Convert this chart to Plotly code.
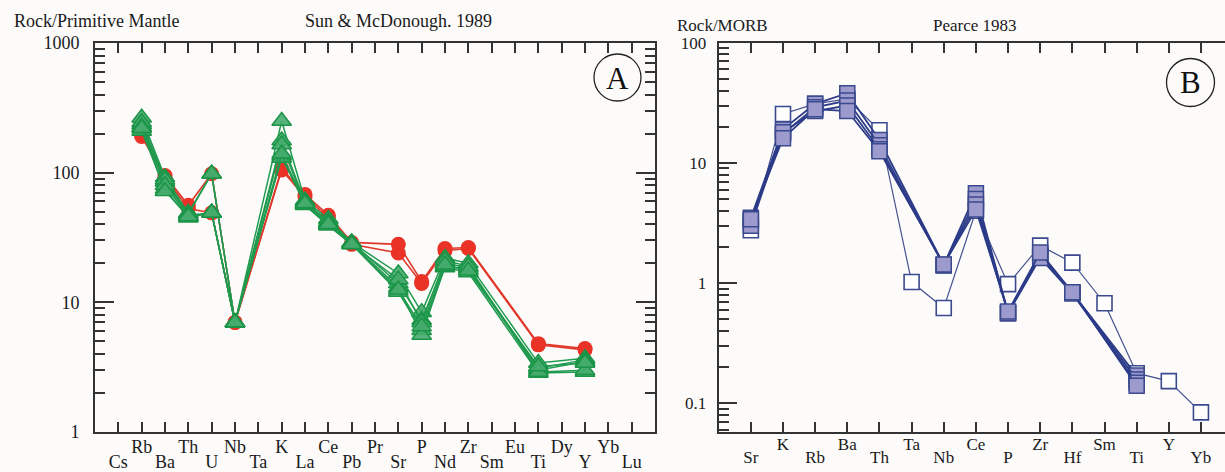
import plotly.graph_objects as go

W, H = 1225, 472

# ---------------- Panel A data (Rock / Primitive Mantle) ----------------
elements_A = ["Cs", "Rb", "Ba", "Th", "U", "Nb", "Ta", "K", "La", "Ce", "Pb", "Pr",
              "Sr", "P", "Nd", "Zr", "Sm", "Eu", "Ti", "Dy", "Y", "Yb", "Lu"]
plotted_A = ["Rb", "Ba", "Th", "U", "Nb", "K", "La", "Ce", "Pb", "Sr", "P", "Nd", "Zr", "Ti", "Y"]

red_1 = [195, 95, 56, 98, 7.0, 108, 68, 47, 29, 28, 14.5, 26, 26.5, 4.8, 4.4]
red_2 = [190, 92, 53, 49, 7.0, 105, 65, 45, 28, 24, 14.0, 25, 26.0, 4.7, 4.3]

green_1 = [265, 92, 49, 98, 7.0, 250, 61, 44, 29, 16.7, 8.4, 22, 20, 3.4, 3.7]
green_2 = [235, 85, 47, 49, 7.0, 177, 59, 42, 29, 14.0, 7.3, 20, 18.5, 3.1, 3.6]
green_3 = [210, 75, 45, 49, 7.0, 135, 56, 39, 28, 12.0, 6.1, 18.6, 17, 2.85, 2.9]
green_4 = [245, 88, 48, 98, 7.0, 130, 60, 41, 28.5, 13.0, 5.6, 19, 18, 3.0, 3.5]
green_5 = [225, 80, 46, 49, 7.0, 165, 57, 40, 28, 15.0, 7.0, 21, 19, 2.9, 3.0]
green_6 = [220, 72, 46, 49, 7.0, 140, 58, 40, 28, 12.5, 6.5, 19.5, 17.5, 3.2, 3.4]

# ---------------- Panel B data (Rock / MORB) ----------------
elements_B = ["Sr", "K", "Rb", "Ba", "Th", "Ta", "Nb", "Ce", "P", "Zr", "Hf", "Sm", "Ti", "Y", "Yb"]

open_1 = [2.75, 25.5, 31, 34, 18.7, 1.02, 0.62, 4.0, 0.98, 2.05, 1.48, 0.68, 0.178, 0.153, 0.084]
filled_1 = [3.5, 19.0, 31, 38, 15.5, None, 1.42, 5.6, 0.56, 1.75, 0.83, None, 0.17, None, None]
filled_2 = [3.3, 17.5, 29, 33, 14.0, None, 1.40, 5.0, 0.57, 1.68, 0.83, None, 0.158, None, None]
filled_3 = [3.0, 18.0, 27, 30, 13.0, None, 1.41, 4.5, 0.56, 1.62, 0.82, None, 0.148, None, None]
filled_4 = [3.4, 16.0, 28, 27, 12.5, None, 1.43, 4.1, 0.58, 1.80, 0.84, None, 0.14, None, None]

# ---------------- helpers ----------------
def px(x):
    return x / W

def py(y):
    return 1 - y / H

SERIF = "Liberation Serif"
BG = "#fcfbfa"
AX = "#333333"

xA = [elements_A.index(e) for e in plotted_A]
xB = list(range(len(elements_B)))

fig = go.Figure()

RED_LINE = "#e0382b"
RED_FILL = "#ea3326"
for s in [red_1, red_2]:
    fig.add_trace(go.Scatter(
        x=xA, y=s, xaxis="x", yaxis="y", mode="lines+markers",
        line=dict(color=RED_LINE, width=1.6),
        marker=dict(symbol="circle", size=15, color=RED_FILL, line=dict(width=0)),
        showlegend=False, hoverinfo="skip"))

GREEN_LINE = "#1f9a4e"
for s in [green_1, green_2, green_3, green_4, green_5, green_6]:
    fig.add_trace(go.Scatter(
        x=xA, y=s, xaxis="x", yaxis="y", mode="lines+markers",
        line=dict(color=GREEN_LINE, width=1.5),
        marker=dict(symbol="triangle-up", size=17, color="rgba(70,172,110,0.9)",
                    line=dict(color="#1b9447", width=1.5)),
        showlegend=False, hoverinfo="skip"))

fig.add_trace(go.Scatter(
    x=xB, y=open_1, xaxis="x2", yaxis="y2", mode="lines+markers",
    line=dict(color="#45508f", width=1.2),
    marker=dict(symbol="square", size=15, color="white",
                line=dict(color="#3b4a8e", width=1.6)),
    showlegend=False, hoverinfo="skip"))

for s in [filled_1, filled_2, filled_3, filled_4]:
    fig.add_trace(go.Scatter(
        x=xB, y=s, xaxis="x2", yaxis="y2", mode="lines+markers", connectgaps=True,
        line=dict(color="#2c3b88", width=1.8),
        marker=dict(symbol="square", size=15, color="#9d9bcd",
                    line=dict(color="#3b4a8e", width=1.5)),
        showlegend=False, hoverinfo="skip"))

# empty traces so the overlaying label axes (second row of element names) are drawn
fig.add_trace(go.Scatter(x=[], y=[], xaxis="x3", yaxis="y", showlegend=False, hoverinfo="skip"))
fig.add_trace(go.Scatter(x=[], y=[], xaxis="x4", yaxis="y2", showlegend=False, hoverinfo="skip"))

# ---------------- axes ----------------
upperA_text = [e if i % 2 == 1 else "" for i, e in enumerate(elements_A)]
lowerA_vals = [i for i in range(len(elements_A)) if i % 2 == 0]
lowerA_text = [elements_A[i] for i in lowerA_vals]

upperB_text = [e if i % 2 == 1 else "" for i, e in enumerate(elements_B)]
lowerB_vals = [i for i in range(len(elements_B)) if i % 2 == 0]
lowerB_text = [elements_B[i] for i in lowerB_vals]

minorA = [m * d for d in [1, 10, 100] for m in range(2, 10)]
minorB = [m * d for d in [0.01, 0.1, 1, 10] for m in range(2, 10) if 0.058 < m * d < 100]

domA_x = [px(95), px(655)]
domA_y = [py(432), py(43)]
domB_x = [px(718.7), 1.0]
domB_y = [py(432), py(42.7)]
rangeB_x = [-1, -1 + (W - 718.7) / 32.15]

fontA = dict(family=SERIF, size=18, color="#1a1a1a")
fontB = dict(family=SERIF, size=17, color="#1a1a1a")

fig.update_layout(
    width=W, height=H,
    margin=dict(l=0, r=0, t=0, b=0, autoexpand=False),
    paper_bgcolor=BG, plot_bgcolor=BG,
    showlegend=False,
    xaxis=dict(domain=domA_x, range=[-1, 23], anchor="y", automargin=False,
               tickmode="array", tickvals=list(range(len(elements_A))), ticktext=upperA_text,
               ticks="inside", ticklen=10, tickwidth=1.5, tickcolor=AX,
               showline=True, linecolor=AX, linewidth=2, mirror="ticks",
               showgrid=False, zeroline=False, tickfont=fontA, ticklabelstandoff=-3),
    xaxis3=dict(domain=domA_x, range=[-1, 23], anchor="y", overlaying="x", automargin=False,
                tickmode="array", tickvals=lowerA_vals, ticktext=lowerA_text,
                ticks="", showline=False, showgrid=False, zeroline=False,
                tickfont=fontA, ticklabelstandoff=17),
    yaxis=dict(domain=domA_y, type="log", range=[0, 3], anchor="x", automargin=False,
               tickmode="array", tickvals=[1, 10, 100, 1000], ticktext=["1", "10", "100", "1000"],
               ticks="inside", ticklen=19, tickwidth=1.5, tickcolor=AX,
               minor=dict(tickvals=minorA, ticks="inside", ticklen=10, tickwidth=1.5, tickcolor=AX),
               showline=True, linecolor=AX, linewidth=2, mirror="ticks",
               showgrid=False, zeroline=False, tickfont=fontA, ticklabelstandoff=10),
    xaxis2=dict(domain=domB_x, range=rangeB_x, anchor="y2", automargin=False,
                tickmode="array", tickvals=xB, ticktext=upperB_text,
                ticks="inside", ticklen=10, tickwidth=1.5, tickcolor=AX,
                showline=True, linecolor=AX, linewidth=2, mirror="ticks",
                showgrid=False, zeroline=False, tickfont=fontB, ticklabelstandoff=-4),
    xaxis4=dict(domain=domB_x, range=rangeB_x, anchor="y2", overlaying="x2", automargin=False,
                tickmode="array", tickvals=lowerB_vals, ticktext=lowerB_text,
                ticks="", showline=False, showgrid=False, zeroline=False,
                tickfont=fontB, ticklabelstandoff=13),
    yaxis2=dict(domain=domB_y, type="log", range=[-1.239, 2], anchor="x2", automargin=False,
                tickmode="array", tickvals=[0.1, 1, 10, 100], ticktext=["0.1", "1", "10", "100"],
                ticks="inside", ticklen=18, tickwidth=1.5, tickcolor=AX,
                minor=dict(tickvals=minorB, ticks="inside", ticklen=10, tickwidth=1.5, tickcolor=AX),
                showline=True, linecolor=AX, linewidth=2, mirror=False,
                showgrid=False, zeroline=False, tickfont=fontB, ticklabelstandoff=7),
)

# ---------------- titles & panel letters ----------------
ann = [
    dict(text="Rock/Primitive Mantle", x=px(12), y=py(21), xanchor="left", yanchor="middle", font=fontA),
    dict(text="Sun &amp; McDonough. 1989", x=px(303), y=py(21), xanchor="left", yanchor="middle", font=fontA),
    dict(text="Rock/MORB", x=px(675), y=py(26), xanchor="left", yanchor="middle", font=fontB),
    dict(text="Pearce 1983", x=px(931), y=py(26), xanchor="left", yanchor="middle", font=fontB),
    dict(text="A", x=px(617.5), y=py(78), xanchor="center", yanchor="middle",
         font=dict(family=SERIF, size=31, color="#111")),
    dict(text="B", x=px(1190.5), y=py(83), xanchor="center", yanchor="middle",
         font=dict(family=SERIF, size=31, color="#111")),
]
for a in ann:
    fig.add_annotation(xref="paper", yref="paper", showarrow=False, **a)

for cx, cy, r in [(617.5, 77.5, 23.5), (1190.5, 82.5, 24)]:
    fig.add_shape(type="circle", xref="paper", yref="paper",
                  x0=px(cx - r), x1=px(cx + r), y0=py(cy + r), y1=py(cy - r),
                  line=dict(color="#222", width=1.3))

fig.write_html("out.html")
